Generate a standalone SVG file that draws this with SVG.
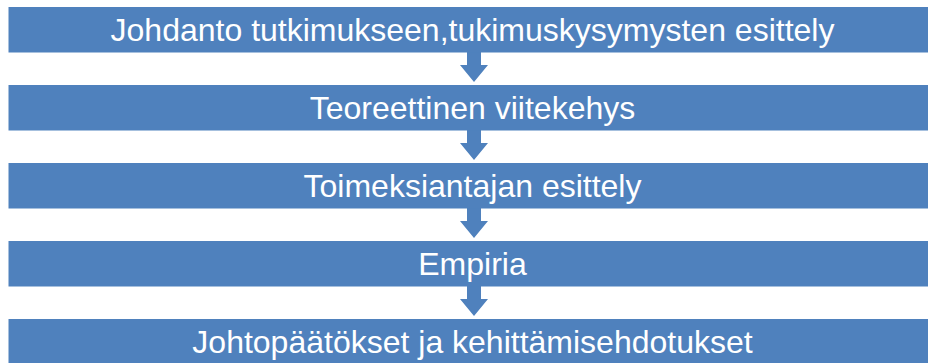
<svg xmlns="http://www.w3.org/2000/svg" width="928" height="363" viewBox="0 0 928 363">
<defs>
<style>
.bar{fill:#4F81BD;}
.lbl{fill:#ffffff;font-family:"Liberation Sans",Arial,sans-serif;font-size:32px;text-anchor:middle;}
.arr{fill:#4F81BD;}
</style>
<path id="arrowShape" d="M467,0 H481 V13 H488 L474,30 L460,13 H467 Z"/>
</defs>
<rect x="0" y="0" width="928" height="363" fill="#ffffff"/>
<g id="connectors">
<use href="#arrowShape" class="arr" y="52"/>
<use href="#arrowShape" class="arr" y="130"/>
<use href="#arrowShape" class="arr" y="208"/>
<use href="#arrowShape" class="arr" y="286"/>
</g>
<g id="node1"><rect class="bar" x="8.5" y="7" width="930" height="45.5"/><text class="lbl" x="472.5" y="40.5">Johdanto tutkimukseen,tukimuskysymysten esittely</text></g>
<g id="node2"><rect class="bar" x="8.5" y="85" width="930" height="45.5"/><text class="lbl" x="472.5" y="118.5">Teoreettinen viitekehys</text></g>
<g id="node3"><rect class="bar" x="8.5" y="163" width="930" height="45.5"/><text class="lbl" x="472.5" y="196.5">Toimeksiantajan esittely</text></g>
<g id="node4"><rect class="bar" x="8.5" y="241" width="930" height="45.5"/><text class="lbl" x="472.5" y="274.5">Empiria</text></g>
<g id="node5"><rect class="bar" x="8.5" y="319" width="930" height="50"/><text class="lbl" x="472.5" y="352.5">Johtopäätökset ja kehittämisehdotukset</text></g>
</svg>
